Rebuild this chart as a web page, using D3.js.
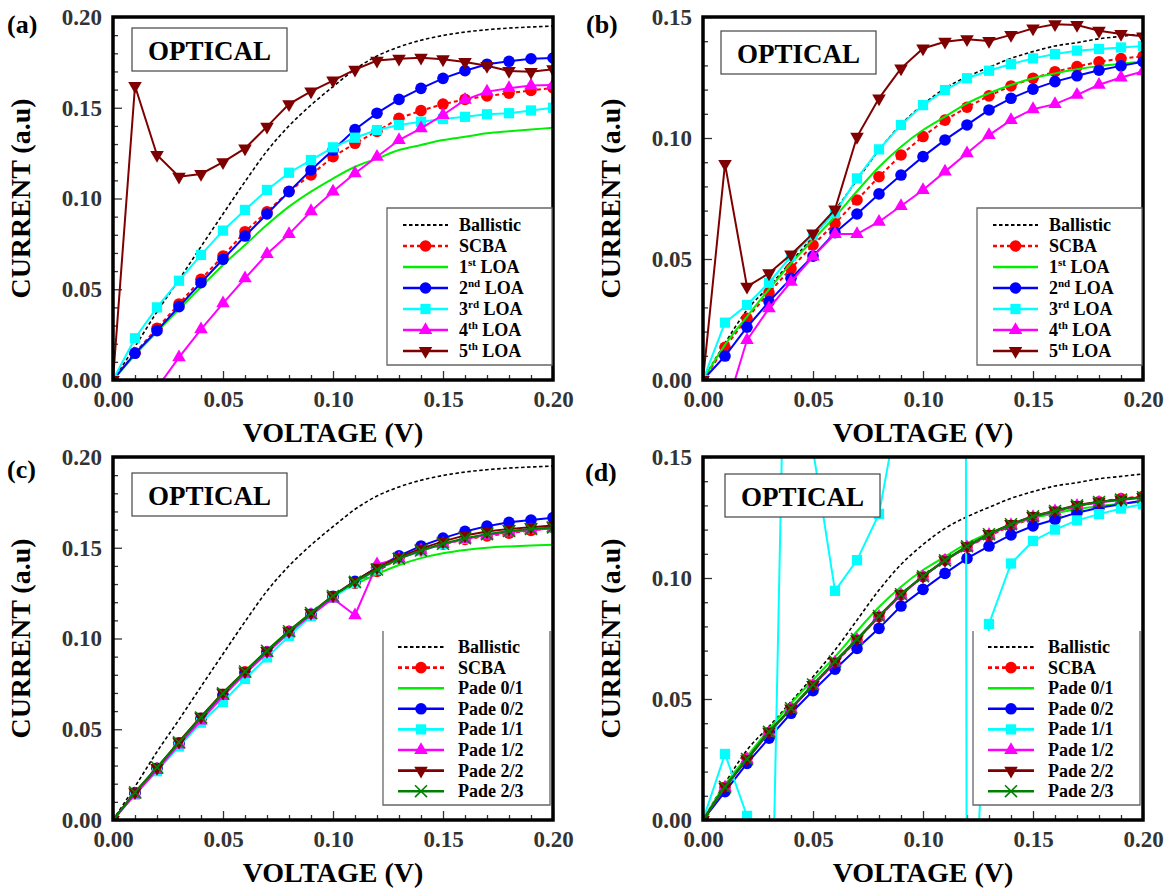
<!DOCTYPE html>
<html><head><meta charset="utf-8">
<script src="https://cdnjs.cloudflare.com/ajax/libs/d3/7.8.5/d3.min.js"></script>
<style>
body{margin:0;background:#fff}
svg{display:block}
text{font-family:"Liberation Serif","Times New Roman",serif;font-weight:bold}
</style>
</head><body>
<svg id="chart" width="1167" height="888"></svg>
<script>
// ---------- DATA ----------
const voltage = [0.00,0.01,0.02,0.03,0.04,0.05,0.06,0.07,0.08,0.09,0.10,0.11,0.12,0.13,0.14,0.15,0.16,0.17,0.18,0.19,0.20];
const xTickValues = [0.00,0.05,0.10,0.15,0.20];
const xTickLabels = ["0.00","0.05","0.10","0.15","0.20"];
const xMinorTicks = [0.01,0.02,0.03,0.04,0.06,0.07,0.08,0.09,0.11,0.12,0.13,0.14,0.16,0.17,0.18,0.19];
const yTickValuesA = [0.00,0.05,0.10,0.15,0.20];
const yTickLabelsA = ["0.00","0.05","0.10","0.15","0.20"];
const yMinorTicksA = [0.01,0.02,0.03,0.04,0.06,0.07,0.08,0.09,0.11,0.12,0.13,0.14,0.16,0.17,0.18,0.19];
const yTickValuesB = [0.00,0.05,0.10,0.15];
const yTickLabelsB = ["0.00","0.05","0.10","0.15"];
const yMinorTicksB = [0.01,0.02,0.03,0.04,0.06,0.07,0.08,0.09,0.11,0.12,0.13,0.14];

// Panel (a)
const ballisticA = [0,0.0184,0.0376,0.0553,0.0735,0.0915,0.1093,0.1262,0.1400,0.1515,0.1616,0.1712,0.1785,0.1835,0.1872,0.1898,0.1917,0.1930,0.1939,0.1945,0.1950];
const scbaA      = [0,0.0150,0.0285,0.0419,0.0555,0.0683,0.0817,0.0927,0.1040,0.1130,0.1230,0.1304,0.1370,0.1442,0.1484,0.1520,0.1546,0.1565,0.1580,0.1595,0.1610];
const loa1A      = [0,0.0138,0.0265,0.0390,0.0512,0.0634,0.0744,0.0855,0.0955,0.1038,0.1110,0.1175,0.1220,0.1267,0.1295,0.1322,0.1340,0.1359,0.1370,0.1380,0.1390];
const loa2A      = [0,0.0147,0.0272,0.0404,0.0536,0.0665,0.0793,0.0915,0.1038,0.1157,0.1267,0.1380,0.1470,0.1546,0.1607,0.1662,0.1704,0.1740,0.1756,0.1770,0.1774];
const loa3A      = [0,0.0230,0.0400,0.0547,0.0689,0.0823,0.0937,0.1047,0.1142,0.1212,0.1282,0.1335,0.1377,0.1405,0.1423,0.1438,0.1450,0.1464,0.1470,0.1485,0.1500];
const loa4A      = [null,null,-0.0044,0.0125,0.0279,0.0422,0.0560,0.0694,0.0804,0.0930,0.1038,0.1139,0.1230,0.1322,0.1387,0.1460,0.1543,0.1589,0.1608,0.1622,0.1625];
const loa5A      = [0,0.1620,0.1240,0.1120,0.1135,0.1200,0.1276,0.1396,0.1520,0.1590,0.1650,0.1710,0.1760,0.1770,0.1776,0.1767,0.1752,0.1731,0.1703,0.1698,0.1712];

// Panel (b)
const ballisticB = [0,0.0152,0.0289,0.0386,0.0489,0.0592,0.0702,0.0826,0.0950,0.1056,0.1138,0.1205,0.1253,0.1292,0.1329,0.1357,0.1380,0.1394,0.1410,0.1420,0.1430];
const scbaB      = [0,0.0135,0.0255,0.0361,0.0461,0.0558,0.0647,0.0744,0.0840,0.0930,0.1006,0.1074,0.1127,0.1174,0.1215,0.1247,0.1274,0.1295,0.1315,0.1328,0.1338];
const loa1B      = [0,0.0145,0.0262,0.0375,0.0482,0.0579,0.0675,0.0780,0.0880,0.0964,0.1033,0.1088,0.1143,0.1185,0.1219,0.1247,0.1267,0.1284,0.1297,0.1307,0.1315];
const loa2B      = [0,0.0099,0.0218,0.0324,0.0420,0.0512,0.0609,0.0686,0.0769,0.0847,0.0923,0.0992,0.1054,0.1116,0.1164,0.1202,0.1233,0.1257,0.1280,0.1298,0.1315];
const loa3B      = [0,0.0237,0.0310,0.0402,0.0512,0.0599,0.0690,0.0833,0.0953,0.1054,0.1136,0.1198,0.1247,0.1278,0.1306,0.1329,0.1347,0.1361,0.1368,0.1374,0.1380];
const loa4B      = [null,-0.0135,0.0165,0.0296,0.0406,0.0510,0.0603,0.0603,0.0654,0.0719,0.0785,0.0861,0.0937,0.1012,0.1074,0.1119,0.1140,0.1178,0.1220,0.1250,0.1275];
const loa5B      = [0,0.0893,0.0386,0.0441,0.0519,0.0606,0.0705,0.1005,0.1164,0.1288,0.1370,0.1398,0.1408,0.1401,0.1426,0.1453,0.1470,0.1467,0.1443,0.1430,0.1420];

// Panel (c)
const ballisticC = [0,0.0184,0.0376,0.0553,0.0735,0.0915,0.1093,0.1262,0.1400,0.1515,0.1616,0.1712,0.1785,0.1835,0.1872,0.1898,0.1917,0.1930,0.1939,0.1945,0.1950];
const scbaC      = [0,0.0150,0.0285,0.0419,0.0555,0.0683,0.0817,0.0927,0.1040,0.1130,0.1230,0.1304,0.1370,0.1442,0.1484,0.1520,0.1546,0.1565,0.1580,0.1595,0.1610];
const pade01C    = [0,0.0150,0.0290,0.0430,0.0568,0.0700,0.0820,0.0935,0.1043,0.1140,0.1232,0.1298,0.1355,0.1405,0.1443,0.1470,0.1488,0.1500,0.1507,0.1512,0.1516];
const pade02C    = [0,0.0150,0.0285,0.0425,0.0560,0.0690,0.0810,0.0925,0.1035,0.1135,0.1232,0.1315,0.1392,0.1455,0.1510,0.1553,0.1590,0.1619,0.1640,0.1653,0.1666];
const pade11C    = [0,0.0140,0.0269,0.0405,0.0536,0.0650,0.0777,0.0896,0.1014,0.1123,0.1225,0.1305,0.1380,0.1440,0.1482,0.1520,0.1550,0.1575,0.1592,0.1604,0.1612];
const pade12C    = [0,0.0140,0.0275,0.0415,0.0548,0.0683,0.0805,0.0920,0.1032,0.1130,0.1220,0.1128,0.1408,0.1440,0.1485,0.1520,0.1548,0.1570,0.1585,0.1597,0.1608];
const pade22C    = [0,0.0154,0.0287,0.0432,0.0569,0.0701,0.0819,0.0932,0.1041,0.1141,0.1237,0.1317,0.1390,0.1450,0.1495,0.1535,0.1568,0.1590,0.1604,0.1613,0.1622];
const pade23C    = [0,0.0152,0.0290,0.0428,0.0565,0.0698,0.0818,0.0932,0.1040,0.1140,0.1234,0.1312,0.1380,0.1440,0.1485,0.1522,0.1552,0.1575,0.1592,0.1603,0.1612];

// Panel (d)
const ballisticD = [0,0.0152,0.0289,0.0386,0.0489,0.0592,0.0702,0.0826,0.0950,0.1056,0.1138,0.1205,0.1253,0.1292,0.1329,0.1357,0.1380,0.1394,0.1410,0.1420,0.1430];
const scbaD      = [0,0.0135,0.0255,0.0361,0.0461,0.0558,0.0647,0.0744,0.0840,0.0930,0.1006,0.1074,0.1127,0.1174,0.1215,0.1247,0.1274,0.1295,0.1315,0.1328,0.1338];
const pade01D    = [0,0.0145,0.0262,0.0375,0.0482,0.0579,0.0675,0.0780,0.0880,0.0964,0.1033,0.1088,0.1143,0.1185,0.1219,0.1247,0.1267,0.1284,0.1297,0.1307,0.1315];
const pade02D    = [0,0.0117,0.0234,0.0338,0.0441,0.0534,0.0623,0.0709,0.0792,0.0884,0.0953,0.1019,0.1081,0.1132,0.1178,0.1215,0.1242,0.1270,0.1290,0.1305,0.1320];
const pade11D    = [0,0.0273,0.0017,-0.1060,0.3350,0.1530,0.0947,0.1074,0.1265,0.1760,0.3000,5.0000,-0.1000,0.0810,0.1060,0.1153,0.1200,0.1238,0.1264,0.1287,0.1305];
const pade12D    = [0,0.0134,0.0250,0.0360,0.0458,0.0555,0.0650,0.0744,0.0840,0.0930,0.1005,0.1072,0.1128,0.1178,0.1219,0.1252,0.1275,0.1298,0.1312,0.1322,0.1332];
const pade22D    = [0,0.0138,0.0251,0.0365,0.0461,0.0558,0.0654,0.0747,0.0843,0.0934,0.1008,0.1074,0.1132,0.1182,0.1223,0.1256,0.1278,0.1302,0.1315,0.1325,0.1335];
const pade23D    = [0,0.0137,0.0252,0.0364,0.0462,0.0560,0.0655,0.0748,0.0843,0.0933,0.1007,0.1073,0.1131,0.1181,0.1222,0.1255,0.1277,0.1300,0.1314,0.1324,0.1334];

// ---------- STYLES ----------
const ST = {
  ballistic:{color:"#000000", width:1.6, dash:"3.5,2.5", marker:null, smooth:true},
  scba:{color:"#ff0000", width:2, dash:"4,3", marker:"circle"},
  g1:{color:"#00ee00", width:2, dash:null, marker:null, smooth:true},
  blue:{color:"#0000ff", width:2, dash:null, marker:"circle"},
  cyan:{color:"#00ffff", width:2, dash:null, marker:"square"},
  mag:{color:"#ff00ff", width:2, dash:null, marker:"up"},
  brown:{color:"#7f0000", width:2, dash:null, marker:"down"},
  dg:{color:"#008000", width:2, dash:null, marker:"x"}
};

const svg = d3.select("#chart");
const PW = 440, PH = 363;

function supLabel(text, node){
  const parts = text.split("|");
  node.append("tspan").text(parts[0]);
  if(parts.length>1){
    node.append("tspan").attr("font-size","11px").attr("dy","-7").text(parts[1]);
    node.append("tspan").attr("dy","7").text(parts[2]);
  }
}

function drawMarker(g, type, color, cx, cy){
  if(type==="circle"){
    g.append("circle").attr("cx",cx).attr("cy",cy).attr("r",5.8).attr("fill",color);
  } else if(type==="square"){
    g.append("path").attr("d",d3.symbol(d3.symbolSquare,105)()).attr("transform",`translate(${cx},${cy})`).attr("fill",color);
  } else if(type==="up"){
    g.append("path").attr("d",d3.symbol(d3.symbolTriangle,80)()).attr("transform",`translate(${cx},${cy})`).attr("fill",color);
  } else if(type==="down"){
    g.append("path").attr("d",d3.symbol(d3.symbolTriangle,80)()).attr("transform",`translate(${cx},${cy}) rotate(180)`).attr("fill",color);
  } else if(type==="x"){
    g.append("path").attr("d",d3.symbol(d3.symbolTimes,95)()).attr("transform",`translate(${cx},${cy})`).attr("fill","none").attr("stroke",color).attr("stroke-width",1.6);
  }
}

function drawPanel(p, idx){
  const x = d3.scaleLinear().domain([0,0.2]).range([p.left, p.left+PW]);
  const y = d3.scaleLinear().domain([0,p.yMax]).range([p.top+PH, p.top]);
  const g = svg.append("g");
  const clipId = "clip"+idx;
  svg.append("clipPath").attr("id",clipId).append("rect")
    .attr("x",p.left).attr("y",p.top).attr("width",PW).attr("height",PH);

  const gx = g.append("g").attr("transform",`translate(0,${p.top+PH})`);
  gx.call(d3.axisBottom(x).tickValues(xMinorTicks).tickSize(-5).tickFormat(""));
  gx.append("g").call(d3.axisBottom(x).tickValues(xTickValues).tickSize(-9).tickPadding(11).tickFormat((d,i)=>xTickLabels[i]));
  const gy = g.append("g").attr("transform",`translate(${p.left},0)`);
  gy.call(d3.axisLeft(y).tickValues(p.yMinor).tickSize(-5).tickFormat(""));
  gy.append("g").call(d3.axisLeft(y).tickValues(p.yTicks).tickSize(-9).tickPadding(11).tickFormat((d,i)=>p.yLabels[i]));
  g.selectAll(".domain").remove();
  g.selectAll(".tick line").attr("stroke","#333").attr("stroke-width",1.3);
  g.selectAll(".tick text").attr("font-family","'Liberation Serif',serif").attr("font-weight","bold")
    .attr("font-size","23px").attr("fill","#333");

  const plot = g.append("g").attr("clip-path",`url(#${clipId})`);
  p.series.forEach(s=>{
    const st = ST[s.style];
    const pts = voltage.map((v,i)=>[v, s.values[i]]);
    const line = d3.line().defined(d=>d[1]!==null).x(d=>x(d[0])).y(d=>y(d[1]));
    if(st.smooth) line.curve(d3.curveMonotoneX);
    plot.append("path").attr("d",line(pts)).attr("fill","none").attr("stroke",st.color)
      .attr("stroke-width",st.width).attr("stroke-dasharray",st.dash);
    if(st.marker){
      pts.filter(d=>d[1]!==null).forEach(d=>drawMarker(plot, st.marker, st.color, x(d[0]), y(d[1])));
    }
  });

  g.append("rect").attr("x",p.left).attr("y",p.top).attr("width",PW).attr("height",PH)
    .attr("fill","none").attr("stroke","#000").attr("stroke-width",3.5);

  g.append("rect").attr("x",p.left+p.opt[0]).attr("y",p.top+p.opt[1]).attr("width",155).attr("height",43)
    .attr("fill","#fff").attr("stroke","#444").attr("stroke-width",1.2);
  g.append("text").attr("x",p.left+p.opt[0]+77.5).attr("y",p.top+p.opt[1]+32).attr("text-anchor","middle")
    .attr("font-size","27px").text("OPTICAL");

  const L = p.legend;
  const lg = g.append("g");
  const bx0 = p.left+L.x0, bx1 = p.left+L.x1, by0 = p.top+L.y0, by1 = p.top+L.y1;
  lg.append("rect").attr("x",bx0).attr("y",by0).attr("width",bx1-bx0).attr("height",by1-by0).attr("fill","#fff").attr("stroke","none");
  const bpath = L.openTop ? `M${bx0},${by0}V${by1}H${bx1}V${by0}` : `M${bx0},${by0}V${by1}H${bx1}V${by0}Z`;
  lg.append("path").attr("d",bpath).attr("fill","none").attr("stroke","#666").attr("stroke-width",1.3);
  p.series.forEach((s,i)=>{
    const st = ST[s.style];
    const ry = p.top + L.row0 + i*L.dy;
    lg.append("line").attr("x1",p.left+L.l0).attr("x2",p.left+L.l1).attr("y1",ry).attr("y2",ry)
      .attr("stroke",st.color).attr("stroke-width",st.width+0.6).attr("stroke-dasharray",st.dash);
    if(st.marker) drawMarker(lg, st.marker, st.color, p.left+(L.l0+L.l1)/2, ry);
    const t = lg.append("text").attr("x",p.left+L.tx).attr("y",ry+6).attr("font-size","18px");
    supLabel(s.name, t);
  });

  g.append("text").attr("x",p.left+PW/2).attr("y",p.top+PH+62).attr("text-anchor","middle")
    .attr("font-size","28px").text("VOLTAGE (V)");
  g.append("text").attr("transform",`translate(${p.left-83},${p.top+PH/2}) rotate(-90)`).attr("text-anchor","middle")
    .attr("font-size","28px").text("CURRENT (a.u)");
  g.append("text").attr("x",p.lab[0]).attr("y",p.lab[1]).attr("font-size","26px").text(p.label);
}

const legendLOA = {x0:274,x1:439,y0:191,y1:348,row0:208,dy:21,l0:290,l1:335,tx:346,openTop:false};
const legendPade = {x0:270,x1:437,y0:174,y1:348,row0:190,dy:20.6,l0:285,l1:331,tx:345,openTop:true};

const panels = [
  {label:"(a)", lab:[7,33], left:113, top:17, yMax:0.20, yTicks:yTickValuesA, yLabels:yTickLabelsA, yMinor:yMinorTicksA,
   opt:[19,11], legend:legendLOA,
   series:[{name:"Ballistic",values:ballisticA,style:"ballistic"},{name:"SCBA",values:scbaA,style:"scba"},
           {name:"1|st| LOA",values:loa1A,style:"g1"},{name:"2|nd| LOA",values:loa2A,style:"blue"},
           {name:"3|rd| LOA",values:loa3A,style:"cyan"},{name:"4|th| LOA",values:loa4A,style:"mag"},
           {name:"5|th| LOA",values:loa5A,style:"brown"}]},
  {label:"(b)", lab:[586,33], left:703, top:17, yMax:0.15, yTicks:yTickValuesB, yLabels:yTickLabelsB, yMinor:yMinorTicksB,
   opt:[18,14], legend:legendLOA,
   series:[{name:"Ballistic",values:ballisticB,style:"ballistic"},{name:"SCBA",values:scbaB,style:"scba"},
           {name:"1|st| LOA",values:loa1B,style:"g1"},{name:"2|nd| LOA",values:loa2B,style:"blue"},
           {name:"3|rd| LOA",values:loa3B,style:"cyan"},{name:"4|th| LOA",values:loa4B,style:"mag"},
           {name:"5|th| LOA",values:loa5B,style:"brown"}]},
  {label:"(c)", lab:[7,478], left:113, top:457, yMax:0.20, yTicks:yTickValuesA, yLabels:yTickLabelsA, yMinor:yMinorTicksA,
   opt:[19,16], legend:legendPade,
   series:[{name:"Ballistic",values:ballisticC,style:"ballistic"},{name:"SCBA",values:scbaC,style:"scba"},
           {name:"Pade 0/1",values:pade01C,style:"g1"},{name:"Pade 0/2",values:pade02C,style:"blue"},
           {name:"Pade 1/1",values:pade11C,style:"cyan"},{name:"Pade 1/2",values:pade12C,style:"mag"},
           {name:"Pade 2/2",values:pade22C,style:"brown"},{name:"Pade 2/3",values:pade23C,style:"dg"}]},
  {label:"(d)", lab:[585,481], left:703, top:457, yMax:0.15, yTicks:yTickValuesB, yLabels:yTickLabelsB, yMinor:yMinorTicksB,
   opt:[22,17], legend:legendPade,
   series:[{name:"Ballistic",values:ballisticD,style:"ballistic"},{name:"SCBA",values:scbaD,style:"scba"},
           {name:"Pade 0/1",values:pade01D,style:"g1"},{name:"Pade 0/2",values:pade02D,style:"blue"},
           {name:"Pade 1/1",values:pade11D,style:"cyan"},{name:"Pade 1/2",values:pade12D,style:"mag"},
           {name:"Pade 2/2",values:pade22D,style:"brown"},{name:"Pade 2/3",values:pade23D,style:"dg"}]}
];
panels.forEach((p,i)=>drawPanel(p,i));
</script>
</body></html>
